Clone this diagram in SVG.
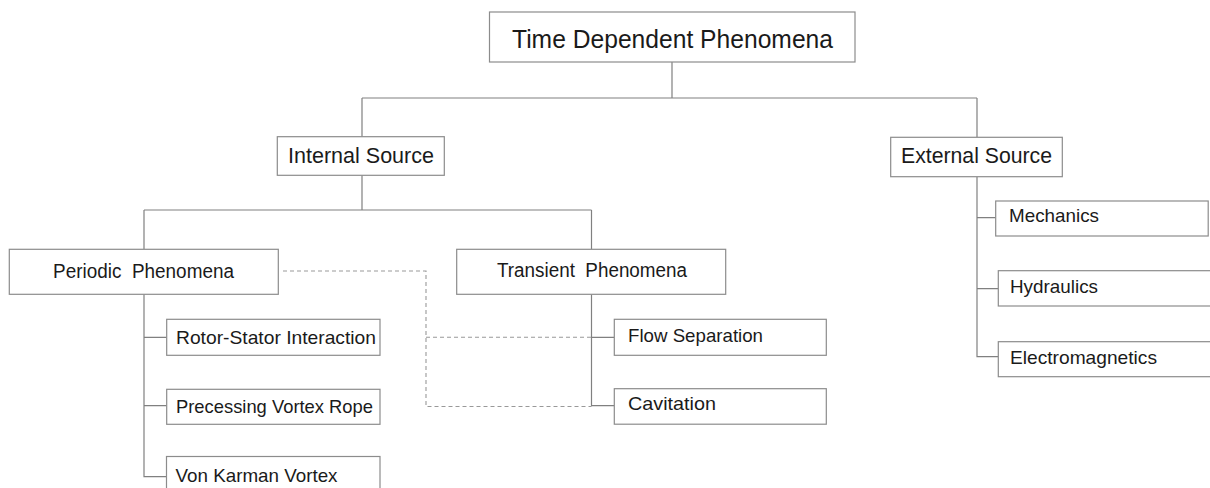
<svg xmlns="http://www.w3.org/2000/svg" width="1210" height="488" viewBox="0 0 1210 488">
<style>
.box{fill:#fff;stroke:#8c8c8c;stroke-width:1.2}
.ln{fill:none;stroke:#808080;stroke-width:1.2}
.dash{fill:none;stroke:#999;stroke-width:1.1;stroke-dasharray:4 3}
text{font-family:"Liberation Sans",Arial,sans-serif;fill:#1a1a1a}
.t0{font-size:26px}
.t1{font-size:22px}
.t2{font-size:20px}
.t3{font-size:19px}
</style>
<rect width="1210" height="488" fill="#fff"/>
<g id="connectors">
<path class="ln" d="M672,62V98M362,98H977M362,98V136.7M977,98V137.3"/>
<path class="ln" d="M362,175.3V210M144,210H591.5M144,210V249.3M591.5,210V249.3"/>
<path class="ln" d="M144,294.3V476.7H166.5M144,337.3H166.7M144,405.7H166.7"/>
<path class="ln" d="M591.5,294.3V405.7H614.3M591.5,337.3H614.3"/>
<path class="ln" d="M977,176.7V356.7H998.3M977,217.7H995.7M977,288.7H998.3"/>
<path class="dash" d="M283,271H426V406.5H591.5M426,337.3H591.5"/>
</g>
<g id="n-root"><rect class="box" x="489.5" y="12" width="365.5" height="50"/><text class="t0" x="512" y="47.5" textLength="321" lengthAdjust="spacingAndGlyphs">Time Dependent Phenomena</text></g>
<g id="n-internal"><rect class="box" x="277.3" y="136.7" width="167" height="38.6"/><text class="t1" x="288" y="162.5" textLength="146" lengthAdjust="spacingAndGlyphs">Internal Source</text></g>
<g id="n-external"><rect class="box" x="890.7" y="137.3" width="171.6" height="39.4"/><text class="t1" x="901" y="162.7" textLength="151" lengthAdjust="spacingAndGlyphs">External Source</text></g>
<g id="n-periodic"><rect class="box" x="9.3" y="249.3" width="269" height="45"/><text class="t2" x="53" y="277.7" textLength="181" lengthAdjust="spacingAndGlyphs">Periodic&#160; Phenomena</text></g>
<g id="n-transient"><rect class="box" x="456.7" y="249.3" width="269" height="45"/><text class="t2" x="497" y="276.7" textLength="190" lengthAdjust="spacingAndGlyphs">Transient&#160; Phenomena</text></g>
<g id="n-rotor"><rect class="box" x="166.7" y="319.3" width="213.3" height="36"/><text class="t3" x="176" y="344" textLength="200" lengthAdjust="spacingAndGlyphs">Rotor-Stator Interaction</text></g>
<g id="n-pvr"><rect class="box" x="166.7" y="389.3" width="213.3" height="35"/><text class="t3" x="176" y="413.3" textLength="197" lengthAdjust="spacingAndGlyphs">Precessing Vortex Rope</text></g>
<g id="n-vk"><rect class="box" x="166.5" y="456.5" width="213.5" height="40"/><text class="t3" x="175.5" y="481.7" textLength="162" lengthAdjust="spacingAndGlyphs">Von Karman Vortex</text></g>
<g id="n-flow"><rect class="box" x="614.3" y="319.3" width="212" height="36"/><text class="t3" x="628" y="341.7" textLength="135" lengthAdjust="spacingAndGlyphs">Flow Separation</text></g>
<g id="n-cav"><rect class="box" x="614.3" y="388.7" width="212" height="35.5"/><text class="t3" x="628" y="410" textLength="88" lengthAdjust="spacingAndGlyphs">Cavitation</text></g>
<g id="n-mech"><rect class="box" x="995.7" y="201" width="212.5" height="35"/><text class="t3" x="1009" y="222.3" textLength="90" lengthAdjust="spacingAndGlyphs">Mechanics</text></g>
<g id="n-hyd"><rect class="box" x="998.3" y="270.7" width="220" height="35.3"/><text class="t3" x="1010" y="293.3" textLength="88" lengthAdjust="spacingAndGlyphs">Hydraulics</text></g>
<g id="n-em"><rect class="box" x="998.3" y="341.7" width="220" height="35"/><text class="t3" x="1010" y="364" textLength="147" lengthAdjust="spacingAndGlyphs">Electromagnetics</text></g>
</svg>
